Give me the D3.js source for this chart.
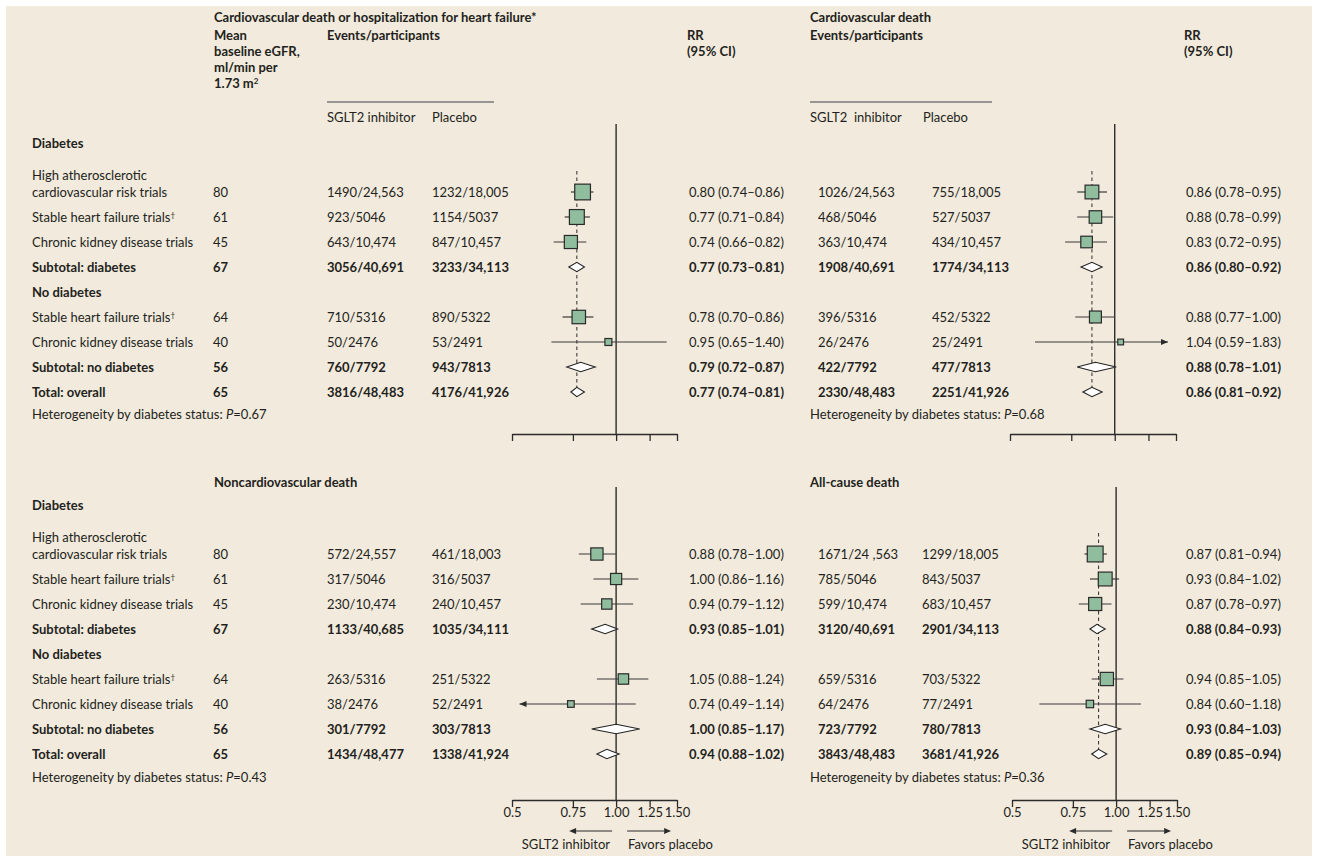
<!DOCTYPE html>
<html><head><meta charset="utf-8">
<script src="https://cdn.jsdelivr.net/npm/d3@7"></script>
<style>
body{margin:0;background:#fff}
text{font-family:Lato,'Open Sans',sans-serif;fill:#231f20;font-size:13px}
.b{font-weight:bold}
</style>
</head><body>
<svg id="c" width="1318" height="856"></svg>
<script>
// ---------- data ----------
const rowLabels = ["cardiovascular risk trials","Stable heart failure trials†","Chronic kidney disease trials","Subtotal: diabetes","Stable heart failure trials†","Chronic kidney disease trials","Subtotal: no diabetes","Total: overall"];
const rowKinds = ["study","study","study","subtotal","study","study","subtotal","total"];
const rowSlots = [0,1,2,3,5,6,7,8];
const egfr = [80,61,45,67,64,40,56,65];
const groupHeaders = ["Diabetes","No diabetes"];
const tickValues = [0.5,0.75,1.0,1.25,1.5];
const tickLabels = ["0.5","0.75","1.00","1.25","1.50"];

const titles = ["Cardiovascular death or hospitalization for heart failure*","Cardiovascular death","Noncardiovascular death","All-cause death"];
const hetP = ["0.67","0.68","0.43","0.36"];

const sglt1 = ["1490/24,563","923/5046","643/10,474","3056/40,691","710/5316","50/2476","760/7792","3816/48,483"];
const plac1 = ["1232/18,005","1154/5037","847/10,457","3233/34,113","890/5322","53/2491","943/7813","4176/41,926"];
const rr1 = [0.80,0.77,0.74,0.77,0.78,0.95,0.79,0.77];
const lo1 = [0.74,0.71,0.66,0.73,0.70,0.65,0.72,0.74];
const hi1 = [0.86,0.84,0.82,0.81,0.86,1.40,0.87,0.81];

const sglt2 = ["1026/24,563","468/5046","363/10,474","1908/40,691","396/5316","26/2476","422/7792","2330/48,483"];
const plac2 = ["755/18,005","527/5037","434/10,457","1774/34,113","452/5322","25/2491","477/7813","2251/41,926"];
const rr2 = [0.86,0.88,0.83,0.86,0.88,1.04,0.88,0.86];
const lo2 = [0.78,0.78,0.72,0.80,0.77,0.59,0.78,0.81];
const hi2 = [0.95,0.99,0.95,0.92,1.00,1.83,1.01,0.92];

const sglt3 = ["572/24,557","317/5046","230/10,474","1133/40,685","263/5316","38/2476","301/7792","1434/48,477"];
const plac3 = ["461/18,003","316/5037","240/10,457","1035/34,111","251/5322","52/2491","303/7813","1338/41,924"];
const rr3 = [0.88,1.00,0.94,0.93,1.05,0.74,1.00,0.94];
const lo3 = [0.78,0.86,0.79,0.85,0.88,0.49,0.85,0.88];
const hi3 = [1.00,1.16,1.12,1.01,1.24,1.14,1.17,1.02];

const sglt4 = ["1671/24 ,563","785/5046","599/10,474","3120/40,691","659/5316","64/2476","723/7792","3843/48,483"];
const plac4 = ["1299/18,005","843/5037","683/10,457","2901/34,113","703/5322","77/2491","780/7813","3681/41,926"];
const rr4 = [0.87,0.93,0.87,0.88,0.94,0.84,0.93,0.89];
const lo4 = [0.81,0.84,0.78,0.84,0.85,0.60,0.84,0.85];
const hi4 = [0.94,1.02,0.97,0.93,1.05,1.18,1.03,0.94];

const pooled = [0.77,0.86,null,0.89]; // dashed reference (overall RR), not drawn for noncardiovascular

// ---------- layout ----------
const svg = d3.select("#c");
svg.append("rect").attr("x",6).attr("y",6).attr("width",1306).attr("height",850).attr("fill","#f2eadc");

const geom = [
  {left:true,  labelX:32, egfrX:213, titleX:214, sX:327, pX:432, rrX:689, fx:[512,677], rows:[192,392], top:124, axisY:434, labels:false, hetY:414, titleY:17},
  {left:false, sX:818, pX:932, rrX:1186, titleX:810, fx:[1010,1176], rows:[192,392], top:124, axisY:434, labels:false, hetY:414, titleY:17},
  {left:true,  labelX:32, egfrX:213, titleX:214, sX:327, pX:432, rrX:689, fx:[512,677], rows:[554,754], top:487, axisY:800, labels:true, hetY:777, titleY:482},
  {left:false, sX:818, pX:922, rrX:1186, titleX:810, fx:[1012,1177], rows:[554,754], top:487, axisY:800, labels:true, hetY:777, titleY:482}
];
const data = [
  {s:sglt1,p:plac1,rr:rr1,lo:lo1,hi:hi1},
  {s:sglt2,p:plac2,rr:rr2,lo:lo2,hi:hi2},
  {s:sglt3,p:plac3,rr:rr3,lo:lo3,hi:hi3},
  {s:sglt4,p:plac4,rr:rr4,lo:lo4,hi:hi4}
];

const sizeScale = d3.scaleSqrt().domain([0,1]).range([0,6.1]);
const dark = "#2b2b2b";

function txt(g, x, y, s, bold, anchor){
  const t = g.append("text").attr("x",x).attr("y",y).attr("dy","0.35em").attr("class",bold?"b":null);
  if(anchor) t.attr("text-anchor",anchor);
  const parts = s.split("†");
  t.append("tspan").text(parts[0]);
  if(parts.length>1){ t.append("tspan").attr("dy","-0.45em").attr("font-size","8px").text("†"); }
  return t;
}

function arrowHead(g, x, y, dir){
  g.append("path").attr("d",`M${x},${y} L${x-dir*7},${y-3} L${x-dir*7},${y+3} Z`).attr("fill",dark);
}

geom.forEach((G, pi) => {
  const D = data[pi];
  const g = svg.append("g");
  const x = d3.scaleLog().domain([0.5,1.5]).range(G.fx);
  const y = d3.scalePoint().domain(d3.range(9)).range(G.rows);

  // title
  txt(g, G.titleX, G.titleY, titles[pi], true).attr("font-size","13.5px");

  // header (top panels)
  if(pi < 2){
    if(G.left){
      ["Mean","baseline eGFR,","ml/min per"].forEach((s,i)=>txt(g,G.titleX,35+i*16,s,true));
      const t = g.append("text").attr("x",G.titleX).attr("y",83).attr("dy","0.35em").attr("class","b");
      t.append("tspan").text("1.73 m");
      t.append("tspan").attr("dy","-0.45em").attr("font-size","8px").text("2");
    }
    const hx = G.left ? G.sX : G.titleX;
    txt(g, hx, 35, "Events/participants", true);
    txt(g, G.rrX - 2, 35, "RR", true);
    txt(g, G.rrX - 2, 51, "(95% CI)", true);
    g.append("line").attr("x1",hx).attr("x2",G.left?494:992).attr("y1",102).attr("y2",102)
      .attr("stroke","#7a7a7a").attr("stroke-width",1.4);
    txt(g, hx, 117, G.left ? "SGLT2 inhibitor" : "SGLT2  inhibitor", false).style("white-space","pre");
    txt(g, G.left ? G.pX : 923, 117, "Placebo", false);
  }

  // left-hand labels
  if(G.left){
    txt(g, G.labelX, y(0)-49, groupHeaders[0], true);
    txt(g, G.labelX, y(4), groupHeaders[1], true);
    txt(g, G.labelX, y(0)-17, "High atherosclerotic", false);
  }

  // reference line at 1
  g.append("line").attr("x1",x(1)).attr("x2",x(1)).attr("y1",G.top).attr("y2",G.axisY)
    .attr("stroke","#1e1e1e").attr("stroke-width",1.3);

  // dashed pooled line
  if(pooled[pi] !== null){
    g.append("line").attr("x1",x(pooled[pi])).attr("x2",x(pooled[pi])).attr("y1",y(0)-21).attr("y2",y(8))
      .attr("stroke","#2b2b2b").attr("stroke-width",1).attr("stroke-dasharray","3.5,3");
  }

  // axis
  const ax = g.append("g").attr("transform",`translate(0,${G.axisY})`)
    .call(d3.axisBottom(x).tickValues(tickValues).tickSizeInner(7).tickSizeOuter(0)
      .tickFormat((d,i)=>G.labels?tickLabels[i]:""));
  ax.select(".domain").attr("stroke","#2b2b2b").attr("stroke-width",1.3);
  ax.selectAll(".tick line").attr("stroke","#2b2b2b").attr("stroke-width",1.3);
  ax.selectAll(".tick text").attr("font-size","12.5px").attr("font-family","Lato,'Open Sans',sans-serif")
    .attr("fill","#231f20").attr("dy","0.6em").attr("y",9);

  // rows
  rowKinds.forEach((k, i) => {
    const yy = y(rowSlots[i]);
    const bold = k !== "study";
    if(G.left){
      txt(g, G.labelX, yy, rowLabels[i], bold);
      txt(g, G.egfrX, yy, String(egfr[i]), bold);
    }
    txt(g, G.sX, yy, D.s[i], bold);
    txt(g, G.pX, yy, D.p[i], bold);
    txt(g, G.rrX, yy, `${D.rr[i].toFixed(2)} (${D.lo[i].toFixed(2)}–${D.hi[i].toFixed(2)})`, bold);

    const rr = D.rr[i], lo = D.lo[i], hi = D.hi[i];
    if(k === "study"){
      const clipL = lo < 0.5, clipR = hi > 1.5;
      const xL = clipL ? G.fx[0] + 7.5 : x(lo);
      const xR = clipR ? G.fx[1] - 8 : x(hi);
      g.append("line").attr("x1",xL).attr("x2",xR).attr("y1",yy).attr("y2",yy)
        .attr("stroke","#3a3a3a").attr("stroke-width",1.2);
      if(clipL) arrowHead(g, xL, yy, -1);
      if(clipR) arrowHead(g, xR, yy, 1);
      const s = sizeScale(1/Math.log(hi/lo));
      g.append("rect").attr("x",x(rr)-s/2).attr("y",yy-s/2).attr("width",s).attr("height",s)
        .attr("fill","#8fbd9d").attr("stroke","#2a2a2a").attr("stroke-width",1.2);
    } else {
      const h = 4.7;
      g.append("path").attr("d",`M${x(lo)},${yy} L${x(rr)},${yy-h} L${x(hi)},${yy} L${x(rr)},${yy+h} Z`)
        .attr("fill","#fff").attr("stroke","#222").attr("stroke-width",1.1);
    }
  });

  // heterogeneity
  const ht = g.append("text").attr("x",G.left?G.labelX:G.titleX).attr("y",G.hetY).attr("dy","0.35em");
  ht.append("tspan").text("Heterogeneity by diabetes status: ");
  ht.append("tspan").attr("font-style","italic").text("P");
  ht.append("tspan").text("=" + hetP[pi]);

  // favours arrows (bottom panels)
  if(G.labels){
    const ay = 831, x1 = x(1);
    g.append("line").attr("x1",x1-4).attr("x2",x1-40).attr("y1",ay).attr("y2",ay).attr("stroke",dark).attr("stroke-width",1.2);
    arrowHead(g, x1-47, ay, -1);
    g.append("line").attr("x1",x1+11).attr("x2",x1+48).attr("y1",ay).attr("y2",ay).attr("stroke",dark).attr("stroke-width",1.2);
    arrowHead(g, x1+55, ay, 1);
    txt(g, x1-6, 844, "SGLT2 inhibitor", false, "end");
    txt(g, x1+12, 844, "Favors placebo", false);
  }
});
</script>
</body></html>
